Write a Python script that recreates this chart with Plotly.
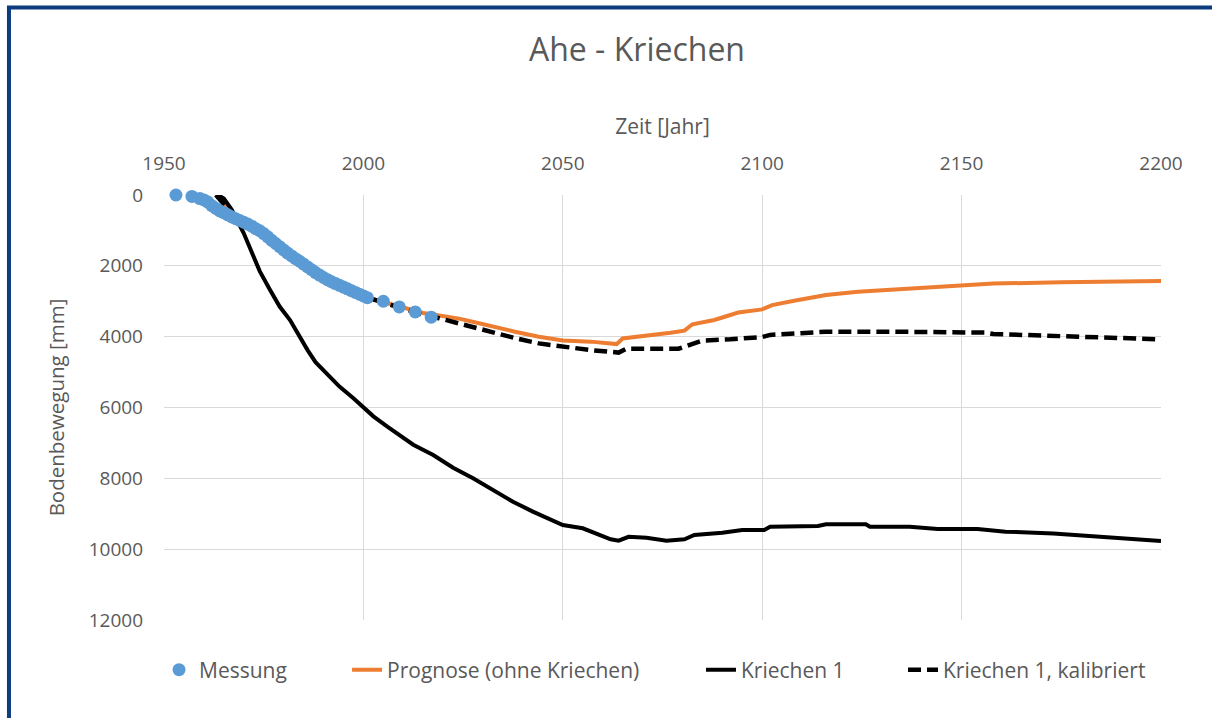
import plotly.graph_objects as go

# ---- data ----
mess_year = [1953, 1957, 1959, 1960, 1961, 1962, 1963, 1964, 1965, 1966, 1967, 1968, 1969, 1970,
             1971, 1972, 1973, 1974, 1975, 1976, 1977, 1978, 1979, 1980, 1981, 1982, 1983, 1984,
             1985, 1986, 1987, 1988, 1989, 1990, 1991, 1992, 1993, 1994, 1995, 1996, 1997, 1998,
             1999, 2000, 2001, 2005, 2009, 2013, 2017]
mess_val = [0, 40, 100, 140, 200, 300, 380, 450, 500, 560, 620, 670, 720, 770,
            820, 880, 950, 1010, 1090, 1180, 1280, 1370, 1460, 1550, 1640, 1720, 1800, 1870,
            1950, 2030, 2110, 2190, 2260, 2330, 2390, 2450, 2500, 2550, 2600, 2650, 2700, 2750,
            2800, 2850, 2900, 3000, 3160, 3300, 3450]

prog_year = [1963, 1965, 1967, 1970, 1974, 1977, 1980, 1984, 1988, 1991, 1995, 2000, 2005, 2010,
             2015, 2019, 2024, 2029, 2034, 2038, 2044, 2050, 2057, 2063.5, 2065, 2071, 2077,
             2080.5, 2082.5, 2088, 2094, 2100, 2102.5, 2108, 2116, 2124, 2137, 2150, 2158, 2175, 2200]
prog_val = [0, 250, 500, 750, 1000, 1300, 1560, 1880, 2180, 2400, 2600, 2860, 3020, 3180,
            3330, 3400, 3490, 3620, 3760, 3860, 4000, 4110, 4140, 4210, 4050, 3980, 3890,
            3830, 3650, 3530, 3320, 3230, 3110, 2985, 2825, 2730, 2640, 2560, 2500, 2465, 2430]

k1_year = [1963, 1964, 1965, 1967, 1970, 1972, 1974, 1976.6, 1979, 1981.6, 1984, 1986, 1988, 1991,
           1994, 1997.5, 2000, 2002.5, 2006, 2009, 2012.5, 2017.5, 2022.5, 2027.5, 2032.5, 2037.5,
           2042.5, 2047, 2050, 2055, 2059.5, 2062, 2064, 2066.5, 2071, 2076, 2080.5, 2083, 2090,
           2095, 2100.5, 2102, 2114, 2116, 2126, 2127, 2137, 2144, 2154, 2161, 2173, 2185, 2194, 2200]
k1_val = [0, 30, 100, 420, 1080, 1650, 2150, 2680, 3150, 3530, 4000, 4380, 4720, 5080,
          5410, 5740, 5980, 6250, 6540, 6770, 7050, 7340, 7700, 8000, 8330, 8660,
          8940, 9180, 9320, 9410, 9600, 9720, 9760, 9650, 9675, 9760, 9720, 9600, 9535,
          9460, 9460, 9370, 9345, 9295, 9295, 9365, 9365, 9430, 9430, 9505, 9555, 9645, 9720, 9770]

k1k_year = [1963, 1965, 1967, 1970, 1974, 1977, 1980, 1984, 1988, 1991, 1995, 2000, 2005, 2010,
            2015, 2019, 2027, 2038, 2044, 2051, 2057, 2064, 2066, 2079, 2082, 2085, 2092, 2100,
            2102, 2108, 2116, 2133, 2150, 2156, 2158, 2170, 2187, 2194, 2200]
k1k_val = [0, 250, 500, 750, 1000, 1300, 1560, 1880, 2180, 2400, 2600, 2860, 3040, 3210,
           3380, 3480, 3720, 4040, 4190, 4300, 4380, 4450, 4340, 4340, 4230, 4110, 4075, 4010,
           3950, 3905, 3860, 3860, 3860, 3885, 3925, 3970, 4020, 4045, 4075]

x_ticks = [1950, 2000, 2050, 2100, 2150, 2200]
y_ticks = [0, 2000, 4000, 6000, 8000, 10000, 12000]

FONT = "Open Sans"
GREY = "#595959"

fig = go.Figure()
fig.add_trace(go.Scatter(x=prog_year, y=prog_val, mode="lines", name="Prognose (ohne Kriechen)",
                         line=dict(color="#ed7d31", width=4), legend="legend2"))
fig.add_trace(go.Scatter(x=k1_year, y=k1_val, mode="lines", name="Kriechen 1",
                         line=dict(color="#000000", width=4), legend="legend3"))
fig.add_trace(go.Scatter(x=k1k_year, y=k1k_val, mode="lines", name="Kriechen 1, kalibriert",
                         line=dict(color="#000000", width=4.5, dash="13px,6px"), legend="legend4"))
fig.add_trace(go.Scatter(x=mess_year, y=mess_val, mode="markers", name="Messung",
                         marker=dict(color="#5b9bd5", size=13), cliponaxis=False, legend="legend"))

# outer frame (left and top edges)
frame = "#0b3d7e"
fig.add_shape(type="line", xref="paper", yref="paper", x0=-0.1555, x1=-0.1555, y0=1.443, y1=-0.24,
              line=dict(color=frame, width=4))
fig.add_shape(type="line", xref="paper", yref="paper", x0=-0.1575, x1=1.06, y0=1.441, y1=1.441,
              line=dict(color=frame, width=4))

leg_common = dict(orientation="h", xanchor="left", y=-0.1176, yanchor="middle",
                  font=dict(size=21, color=GREY, family=FONT), bgcolor="rgba(0,0,0,0)")

fig.update_layout(
    width=1212, height=718,
    margin=dict(l=164, r=51, t=195, b=98),
    paper_bgcolor="white", plot_bgcolor="white",
    font=dict(family=FONT, color=GREY, size=19),
    title=dict(text="Ahe - Kriechen", xref="paper", x=0.4744, xanchor="center", y=0.93, yanchor="middle",
               font=dict(size=32, color=GREY, family=FONT)),
    xaxis=dict(range=[1950, 2200], side="top", tickvals=x_ticks, showgrid=True, gridcolor="#d9d9d9",
               gridwidth=1, zeroline=False, showline=False, ticks="", ticklabelstandoff=20,
               title=dict(text="Zeit [Jahr]", font=dict(size=21, color=GREY), standoff=9),
               tickfont=dict(size=19, color=GREY)),
    yaxis=dict(range=[12000, 0], tickvals=y_ticks, tickformat="d", showgrid=True, gridcolor="#d9d9d9",
               gridwidth=1, zeroline=False, showline=False, ticks="", ticklabelstandoff=20,
               title=dict(text="Bodenbewegung [mm]", font=dict(size=20.5, color=GREY), standoff=18),
               tickfont=dict(size=19, color=GREY)),
    legend=dict(x=-0.005, **leg_common),
    legend2=dict(x=0.1836, **leg_common),
    legend3=dict(x=0.5386, **leg_common),
    legend4=dict(x=0.7412, **leg_common),
    showlegend=True,
)

fig.write_html("out.html", config={"displayModeBar": False},
               post_script="document.body.style.margin='0';")
